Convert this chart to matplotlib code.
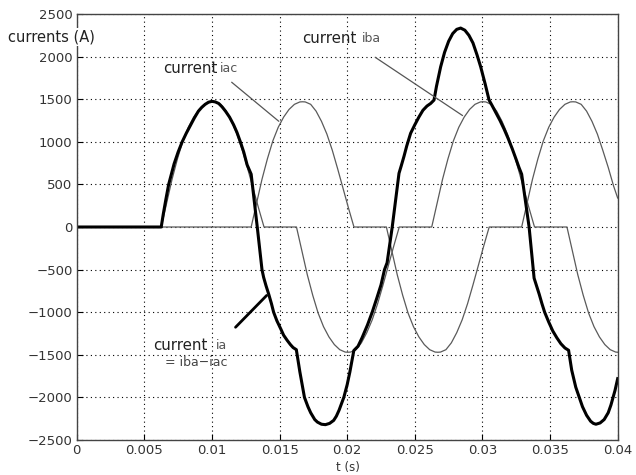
import matplotlib
matplotlib.use("Agg")
import matplotlib.pyplot as plt

# thin curve: current iac (s, A)
iac_t = [0, 0.0129, 0.0133, 0.0137, 0.0141, 0.0145, 0.0149, 0.0153, 0.0157, 0.0161, 0.0165, 0.0167,
         0.0169, 0.0173, 0.0177, 0.0181, 0.0185, 0.0189, 0.0193, 0.0197, 0.0201, 0.0205,
         0.0229, 0.0233, 0.0237, 0.0241, 0.0245, 0.0249, 0.0253, 0.0257, 0.0261, 0.0265, 0.0267,
         0.0269, 0.0273, 0.0277, 0.0281, 0.0285, 0.0289, 0.0293, 0.0297, 0.0301, 0.0305,
         0.0329, 0.0333, 0.0337, 0.0341, 0.0345, 0.0349, 0.0353, 0.0357, 0.0361, 0.0365, 0.0367,
         0.0369, 0.0373, 0.0377, 0.0381, 0.0385, 0.0389, 0.0393, 0.0397, 0.0400]
iac_v = [0, 0, 280, 560, 800, 1010, 1170, 1290, 1380, 1440, 1468, 1470,
         1468, 1440, 1360, 1240, 1090, 900, 680, 450, 220, 0,
         0, -280, -560, -800, -1010, -1170, -1290, -1380, -1440, -1468, -1470,
         -1468, -1440, -1360, -1240, -1090, -900, -680, -450, -220, 0,
         0, 280, 560, 800, 1010, 1170, 1290, 1380, 1440, 1468, 1470,
         1468, 1440, 1360, 1240, 1090, 900, 700, 480, 340]

# thin curve: current iba
iba_t = [0, 0.00625, 0.00665, 0.00705, 0.00745, 0.00785, 0.00825, 0.00865, 0.00905, 0.00945, 0.00985, 0.01005,
         0.01025, 0.01065, 0.01105, 0.01145, 0.01185, 0.01225, 0.01265, 0.01305, 0.01345, 0.01385,
         0.01625, 0.01665, 0.01705, 0.01745, 0.01785, 0.01825, 0.01865, 0.01905, 0.01945, 0.01985, 0.02005,
         0.02025, 0.02065, 0.02105, 0.02145, 0.02185, 0.02225, 0.02265, 0.02305, 0.02345, 0.02385,
         0.02625, 0.02665, 0.02705, 0.02745, 0.02785, 0.02825, 0.02865, 0.02905, 0.02945, 0.02985, 0.03005,
         0.03025, 0.03065, 0.03105, 0.03145, 0.03185, 0.03225, 0.03265, 0.03305, 0.03345, 0.03385,
         0.03625, 0.03665, 0.03705, 0.03745, 0.03785, 0.03825, 0.03865, 0.03905, 0.03945, 0.03985, 0.0400]
iba_v = [0, 0, 280, 560, 800, 1010, 1170, 1290, 1380, 1440, 1468, 1470,
         1468, 1440, 1360, 1240, 1090, 900, 680, 450, 220, 0,
         0, -280, -560, -800, -1010, -1170, -1290, -1380, -1440, -1468, -1470,
         -1468, -1440, -1360, -1240, -1090, -900, -680, -450, -220, 0,
         0, 280, 560, 800, 1010, 1170, 1290, 1380, 1440, 1468, 1470,
         1468, 1440, 1360, 1240, 1090, 900, 680, 450, 220, 0,
         0, -280, -560, -800, -1010, -1170, -1290, -1380, -1440, -1468, -1470]

# thick curve: current ia = iba - iac
ia_t = [0, 0.00625, 0.0064, 0.0066, 0.0068, 0.0070, 0.0072, 0.0075, 0.0078, 0.0081, 0.0084, 0.0087,
        0.0090, 0.00925, 0.0095, 0.00975, 0.0100, 0.01025, 0.0105, 0.01075, 0.0110, 0.0113, 0.0116,
        0.01185, 0.0121, 0.01235, 0.0126, 0.0129, 0.01335, 0.0137, 0.01382, 0.0140, 0.0142, 0.0144,
        0.01456, 0.0148, 0.0151, 0.0153, 0.01556, 0.0158, 0.0160, 0.01624, 0.0165, 0.01684, 0.0171,
        0.0173, 0.0176, 0.0178, 0.0181, 0.01839, 0.0187, 0.0190, 0.0192, 0.0194, 0.01975, 0.0200,
        0.0202, 0.02049, 0.0208, 0.0211, 0.0215, 0.02185, 0.0222, 0.0225, 0.02276, 0.02295, 0.02333,
        0.02383, 0.0240, 0.0242, 0.0244, 0.02469, 0.0250, 0.0253, 0.0256, 0.0259, 0.02617, 0.02642,
        0.0266, 0.02691, 0.0272, 0.0275, 0.0278, 0.0281, 0.02839, 0.0287, 0.0290, 0.0293, 0.0296,
        0.02987, 0.0302, 0.03049, 0.0307, 0.0310, 0.0313, 0.0316, 0.0319, 0.0322, 0.0325, 0.0327,
        0.0329, 0.03345, 0.03382, 0.0340, 0.0342, 0.0344, 0.0346, 0.0349, 0.0352, 0.0355, 0.0358,
        0.0361, 0.03637, 0.0366, 0.0369, 0.03716, 0.0374, 0.0377, 0.0380, 0.0382, 0.03839, 0.0387,
        0.0390, 0.0393, 0.0395, 0.0398, 0.0400]
ia_v = [0, 0, 150, 330, 500, 620, 740, 880, 1000, 1100, 1190, 1280,
        1360, 1405, 1440, 1465, 1475, 1468, 1450, 1410, 1360, 1290, 1200,
        1110, 1000, 880, 730, 620, 0, -500, -590, -690, -790, -900,
        -1000, -1100, -1200, -1270, -1330, -1380, -1415, -1440, -1700, -2000, -2110,
        -2180, -2260, -2290, -2315, -2320, -2305, -2270, -2220, -2150, -2000, -1850,
        -1700, -1450, -1400, -1300, -1150, -1000, -830, -680, -500, -420, 0,
        630, 720, 830, 950, 1100, 1200, 1290, 1370, 1420, 1450, 1490,
        1650, 1880, 2050, 2180, 2270, 2320, 2335, 2310, 2250, 2160, 2020,
        1880, 1680, 1490, 1430, 1340, 1250, 1150, 1040, 920, 790, 700,
        620, 0, -600, -690, -790, -900, -1000, -1115, -1220, -1300, -1370,
        -1420, -1447, -1680, -1880, -2000, -2110, -2210, -2280, -2305, -2315, -2300,
        -2260, -2180, -2090, -1920, -1780]

x_ticks = [0, 0.005, 0.01, 0.015, 0.02, 0.025, 0.03, 0.035, 0.04]
x_tick_labels = ["0", "0.005", "0.01", "0.015", "0.02", "0.025", "0.03", "0.035", "0.04"]
y_ticks = [-2500, -2000, -1500, -1000, -500, 0, 500, 1000, 1500, 2000, 2500]

fig = plt.figure(figsize=(6.36, 4.75), dpi=100)
ax = fig.add_axes([0.1206, 0.0737, 0.8506, 0.8968])

ax.plot(iac_t, iac_v, color="#5a5a5a", lw=0.9)
ax.plot(iba_t, iba_v, color="#5a5a5a", lw=0.9)
ax.plot(ia_t, ia_v, color="black", lw=2.2, solid_joinstyle="round")

ax.set_xlim(0, 0.04)
ax.set_ylim(-2500, 2500)
ax.set_xticks(x_ticks)
ax.set_xticklabels(x_tick_labels)
ax.set_yticks(y_ticks)
ax.grid(True, color="black", linestyle=(0, (1, 3)), lw=0.8)
ax.tick_params(direction="in", length=4, labelsize=9.5, labelcolor="#333333", pad=3)
for s in ax.spines.values():
    s.set_color("#444444")
    s.set_linewidth(1.0)

# annotations
fig.text(8 / 636, 1 - 37 / 475, "currents (A)", fontsize=10.5, color="#222222", va="center",
         bbox=dict(facecolor="white", edgecolor="none", pad=1))

ax.annotate("", xy=(0.0151, 1220), xytext=(0.0113, 1720),
            arrowprops=dict(arrowstyle="-", color="#555555", lw=0.9))
ax.text(0.0064, 1860, "current", fontsize=10.8, color="#222222", va="center")
ax.text(0.0106, 1860, "iac", fontsize=9, color="#555555", va="center")

ax.annotate("", xy=(0.0287, 1290), xytext=(0.0219, 2010),
            arrowprops=dict(arrowstyle="-", color="#555555", lw=0.9))
ax.text(0.01665, 2210, "current", fontsize=10.8, color="#222222", va="center")
ax.text(0.0211, 2210, "iba", fontsize=9, color="#555555", va="center")

ax.annotate("", xy=(0.01419, -780), xytext=(0.01160, -1200),
            arrowprops=dict(arrowstyle="-", color="black", lw=2.0))
ax.text(0.00565, -1390, "current", fontsize=10.8, color="#222222", va="center")
ax.text(0.01030, -1390, "ia", fontsize=9, color="#555555", va="center")
ax.text(0.0065, -1590, "= iba\u2212iac", fontsize=9, color="#444444", va="center")

fig.text(348 / 636, 1 - 467 / 475, "t (s)", fontsize=8.5, color="#333333", ha="center", va="center")

fig.savefig("out.png", dpi=100)
